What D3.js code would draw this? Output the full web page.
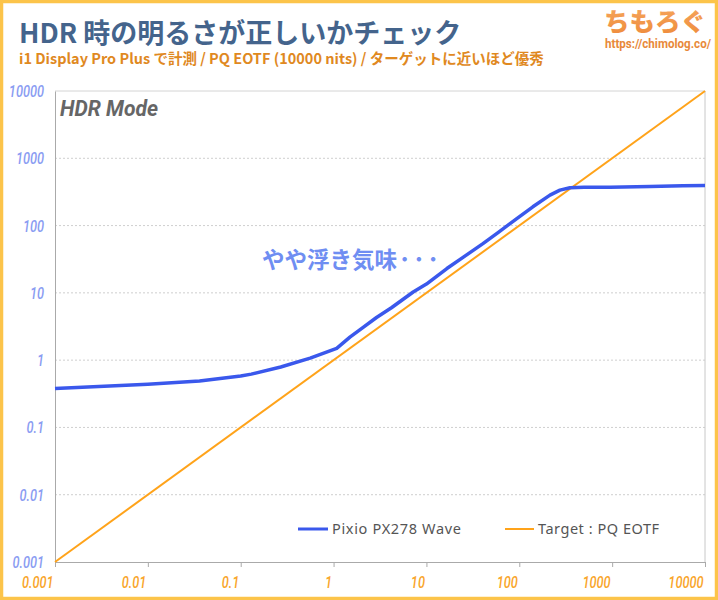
<!DOCTYPE html>
<html><head><meta charset="utf-8">
<script src="https://cdn.jsdelivr.net/npm/d3@7/dist/d3.min.js"></script>
<style>
body{margin:0;padding:0;background:#fff;}
svg{display:block;}
</style></head>
<body>
<svg id="c" width="718" height="600"></svg>
<script>
const xTicks = [0.001, 0.01, 0.1, 1, 10, 100, 1000, 10000];
const yTicks = [0.001, 0.01, 0.1, 1, 10, 100, 1000, 10000];
const xTickLabels = ["0.001","0.01","0.1","1","10","100","1000","10000"];
const yTickLabels = ["0.001","0.01","0.1","1","10","100","1000","10000"];
const targetX = [0.001, 10000];
const targetY = [0.001, 10000];
const measX = [0.001, 0.01, 0.036, 0.1, 0.13, 0.27, 0.56, 1.08, 1.5, 2.1, 2.9, 4.2, 7.2, 10, 16.6, 25, 40.6, 60, 94, 140, 214, 274, 351, 500, 948, 2555, 5790, 10000];
const measY = [0.38, 0.44, 0.49, 0.58, 0.62, 0.79, 1.07, 1.5, 2.2, 3.1, 4.3, 6.0, 10.3, 13.5, 23, 34, 54, 80, 127, 190, 283, 336, 365, 370, 372, 380, 390, 395];
const seriesNames = ["Pixio PX278 Wave", "Target : PQ EOTF"];

(function(){
const svg = d3.select("#c");
const W = 718, H = 600;
const mL = 55, mR = 705, mT = 91, mB = 562;
const COND = 0.75;

svg.append("rect").attr("x",1.5).attr("y",1.5).attr("width",W-3).attr("height",H-3)
  .attr("fill","#fff").attr("stroke","#fcc44a").attr("stroke-width",3.5);

const x = d3.scaleLog().domain([0.001,10000]).range([mL,mR]);
const y = d3.scaleLog().domain([0.001,10000]).range([mB,mT]);

svg.append("text").attr("x",19).attr("y",43)
  .attr("font-family","'Noto Sans CJK JP'").attr("font-weight","700").attr("font-size",27)
  .attr("fill","#44648c").text("HDR 時の明るさが正しいかチェック");
svg.append("text").attr("x",19).attr("y",64)
  .attr("font-family","'Noto Sans CJK JP'").attr("font-weight","700").attr("font-size",14.5)
  .attr("fill","#e0891f").text("i1 Display Pro Plus で計測 / PQ EOTF (10000 nits) / ターゲットに近いほど優秀");
const grad = svg.append("defs").append("linearGradient").attr("id","lg").attr("x1",0).attr("y1",0).attr("x2",0).attr("y2",1);
grad.append("stop").attr("offset","0%").attr("stop-color","#f6a860");
grad.append("stop").attr("offset","100%").attr("stop-color","#ee8a3a");
svg.append("text").attr("x",604).attr("y",31)
  .attr("font-family","'Noto Sans CJK JP'").attr("font-weight","900").attr("font-size",25)
  .attr("fill","url(#lg)").attr("textLength",102).attr("lengthAdjust","spacingAndGlyphs").text("ちもろぐ");
svg.append("text").attr("x",605).attr("y",48)
  .attr("font-family","Roboto").attr("font-weight","700").attr("font-size",12)
  .attr("fill","#e8893a").attr("textLength",106).attr("lengthAdjust","spacingAndGlyphs").text("https://chimolog.co/");

const g = svg.append("g");
g.selectAll("line.grid").data(yTicks.slice(1,-1)).enter().append("line")
  .attr("x1",mL).attr("x2",mR).attr("y1",d=>y(d)).attr("y2",d=>y(d))
  .attr("stroke","#cfcfcf").attr("stroke-width",1).attr("stroke-dasharray","2,2");
g.append("line").attr("x1",mL).attr("x2",mR).attr("y1",mT).attr("y2",mT).attr("stroke","#d4d4d4");
g.append("line").attr("x1",mR).attr("x2",mR).attr("y1",mT).attr("y2",mB).attr("stroke","#c8c8c8");

function condense(sel){
  sel.each(function(){
    const len = this.getComputedTextLength();
    d3.select(this).attr("textLength", len*COND).attr("lengthAdjust","spacingAndGlyphs");
  });
}

const xAxis = d3.axisBottom(x).tickValues(xTicks).tickFormat((d,i)=>xTickLabels[i]).tickSize(5).tickPadding(0);
const gx = svg.append("g").attr("transform",`translate(0,${mB})`).call(xAxis);
gx.select(".domain").attr("stroke","#aaa");
gx.selectAll(".tick line").attr("stroke","#aaa");
gx.selectAll(".tick text").attr("fill","#f9a52a").attr("font-size",17).attr("font-style","italic").attr("font-weight",500)
  .attr("font-family","Roboto").attr("text-anchor","end").attr("x",-2).attr("y",26).attr("dy",null)
  .call(condense);

const yAxis = d3.axisLeft(y).tickValues(yTicks).tickFormat((d,i)=>yTickLabels[i]).tickSize(0).tickPadding(11);
const gy = svg.append("g").attr("transform",`translate(${mL},0)`).call(yAxis);
gy.select(".domain").attr("stroke","#aaa");
gy.selectAll(".tick text").attr("fill","#8a9cf2").attr("font-size",17).attr("font-style","italic").attr("font-weight",500)
  .attr("font-family","Roboto").call(condense);

svg.append("text").attr("x",60).attr("y",116)
  .attr("font-family","Roboto").attr("font-weight","700").attr("font-style","italic")
  .attr("font-size",22.5).attr("fill","#666").attr("textLength",98).attr("lengthAdjust","spacingAndGlyphs").text("HDR Mode");

const line = d3.line().x(d=>x(d[0])).y(d=>y(d[1]));
const targetData = targetX.map((v,i)=>[v,targetY[i]]);
const measData = measX.map((v,i)=>[v,measY[i]]);
svg.append("path").datum(targetData).attr("d",line).attr("fill","none").attr("stroke","#ffa31a").attr("stroke-width",2);
svg.append("path").datum(measData).attr("d",line).attr("fill","none").attr("stroke","#3a58ec").attr("stroke-width",3.5).attr("stroke-linejoin","round");

const ann = svg.append("text").attr("x",262).attr("y",268)
  .attr("font-family","'Noto Sans CJK JP'").attr("font-weight","700").attr("font-size",22.5)
  .attr("fill","#6f8ef2");
ann.append("tspan").text("やや浮き気味");
ann.append("tspan").attr("dx",2).attr("letter-spacing",3).text("･･･");

const leg = svg.append("g");
leg.append("line").attr("x1",298).attr("x2",328).attr("y1",529).attr("y2",529).attr("stroke","#3a58ec").attr("stroke-width",3);
leg.append("text").attr("x",332).attr("y",534).attr("font-family","'Noto Sans',sans-serif")
  .attr("font-size",14.5).attr("fill","#555").attr("textLength",129).attr("lengthAdjust","spacing").text(seriesNames[0]);
leg.append("line").attr("x1",505).attr("x2",534).attr("y1",529).attr("y2",529).attr("stroke","#ffa31a").attr("stroke-width",2);
leg.append("text").attr("x",538).attr("y",534).attr("font-family","'Noto Sans',sans-serif")
  .attr("font-size",14.5).attr("fill","#555").attr("textLength",121).attr("lengthAdjust","spacing").text(seriesNames[1]);
})();
</script>
</body></html>
